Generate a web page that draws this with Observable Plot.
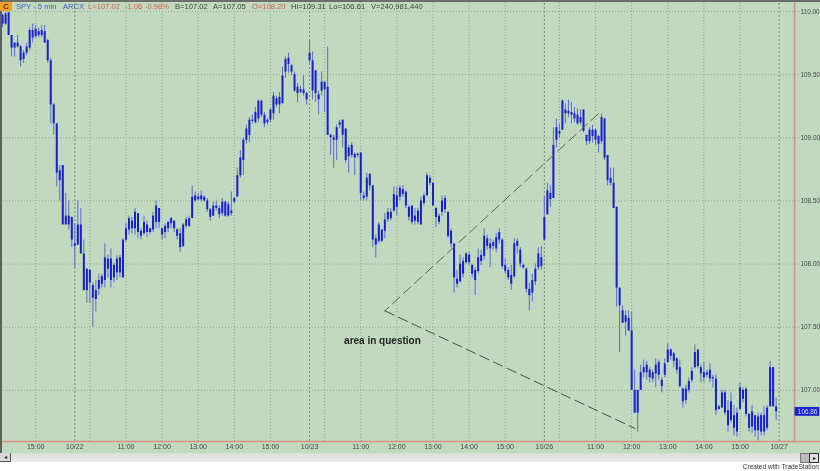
<!DOCTYPE html>
<html><head><meta charset="utf-8">
<script src="https://cdn.jsdelivr.net/npm/d3@7"></script>
<script src="https://cdn.jsdelivr.net/npm/@observablehq/plot@0.6"></script>
<style>
html,body{margin:0;padding:0;background:#fff;width:820px;height:471px;overflow:hidden}
#wrap{position:relative;width:820px;height:471px;font-family:"Liberation Sans",Arial,sans-serif}
#chart svg{display:block;background:#c1d9bf;filter:blur(.35px)}
.h{position:absolute;top:2px;font-size:7.6px;line-height:10px;white-space:nowrap;filter:blur(.3px)}
.c{position:absolute;}
</style></head><body>
<div id="wrap"><div id="chart"></div>
<div class="c" style="left:0;top:0;width:820px;height:2px;background:#6b6f69"></div>
<div class="c" style="left:0;top:0;width:2px;height:453px;background:#5c605a"></div>
<div class="c" style="left:0;top:2px;width:12px;height:9px;background:#f0a030;color:#7a2a00;font:bold 8px 'Liberation Sans';text-align:center;line-height:9px">C</div>
<div id="head"></div>
<div class="c" style="left:0;top:453px;width:820px;height:9px;background:linear-gradient(#d8e0d6,#ececec)"></div>
<div class="c" style="left:0;top:462px;width:820px;height:9px;background:#fff"></div>
<div class="c" style="left:0;top:453px;width:10px;height:8px;background:#d8d8d8;border:1px solid #555;border-left:0;border-top:0;color:#222;font-size:6px;line-height:8px;text-align:center">◂</div>
<div class="c" style="left:800px;top:453px;width:8px;height:8px;background:#bbb;border:1px solid #777"></div>
<div class="c" style="left:809px;top:453px;width:8px;height:8px;background:#ddd;border:1px solid #333;font-size:6px;line-height:8px;text-align:center;color:#222">▸</div>
<div class="c" style="right:1px;top:463px;font-size:6.6px;line-height:8px;color:#333;filter:blur(.25px)">Created with TradeStation</div>
</div>
<script>
const high=[109.98,109.99,109.99,109.81,109.75,109.81,109.73,109.69,109.75,109.87,109.90,109.89,109.87,109.89,109.89,109.78,109.63,109.27,109.11,108.78,108.78,108.56,108.50,108.37,108.32,108.50,108.44,108.19,107.96,107.96,107.85,107.87,107.92,107.92,108.16,108.07,108.12,108.01,108.07,108.07,
108.20,108.32,108.38,108.37,108.44,108.40,108.28,108.38,108.34,108.28,108.41,108.50,108.44,108.28,108.32,108.34,108.37,108.34,108.28,108.28,108.32,108.37,108.38,108.62,108.57,108.56,108.58,108.54,108.52,108.44,
108.49,108.50,108.46,108.52,108.50,108.49,108.57,108.53,108.76,108.90,109.00,109.10,109.16,109.18,109.24,109.30,109.30,109.20,109.15,109.23,109.36,109.33,109.36,109.56,109.64,109.67,109.58,109.52,109.43,109.41,
109.49,109.36,109.77,109.68,109.53,109.37,109.52,109.44,109.72,109.03,109.02,109.10,109.14,109.14,109.07,108.94,108.96,108.88,108.88,108.88,108.57,108.72,108.72,108.62,108.23,108.33,108.27,108.40,108.44,108.44,
108.61,108.61,108.62,108.62,108.58,108.46,108.46,108.44,108.44,108.53,108.56,108.72,108.70,108.64,108.45,108.40,108.54,108.54,108.41,108.28,108.16,107.95,108.07,108.05,108.09,108.09,108.00,107.97,108.12,108.11,
108.28,108.23,108.20,108.19,108.24,108.28,108.20,108.04,107.97,107.99,108.20,108.20,108.13,108.00,107.97,107.85,107.92,108.00,108.13,108.14,108.53,108.64,108.62,109.08,109.15,109.11,109.30,109.27,109.30,109.28,
109.24,109.23,109.22,109.22,109.02,109.08,109.10,109.07,109.02,109.19,109.15,108.86,108.76,108.76,108.45,107.81,107.67,107.63,107.63,107.62,107.16,107.00,107.20,107.24,107.23,107.18,107.16,107.25,107.24,107.10,
107.25,107.37,107.33,107.30,107.26,107.24,107.02,107.04,107.10,107.18,107.36,107.32,107.20,107.22,107.16,107.21,107.12,107.12,106.88,107.00,107.00,106.92,106.98,106.88,106.86,107.06,107.02,107.02,106.82,106.88,
106.80,106.82,106.82,106.87,106.88,107.23,107.18,106.94];
const low=[109.87,109.89,109.81,109.64,109.64,109.71,109.56,109.59,109.65,109.69,109.75,109.79,109.79,109.79,109.75,109.59,109.11,109.02,108.61,108.50,108.31,108.31,108.27,108.13,107.97,108.15,108.08,107.79,107.69,107.69,107.50,107.62,107.75,107.81,107.81,107.89,107.81,107.85,107.87,107.89,
107.89,108.17,108.23,108.24,108.23,108.20,108.19,108.23,108.21,108.23,108.25,108.28,108.28,108.19,108.20,108.25,108.28,108.25,108.19,108.09,108.13,108.28,108.29,108.36,108.49,108.50,108.49,108.49,108.41,108.34,
108.38,108.42,108.36,108.38,108.37,108.37,108.38,108.48,108.53,108.68,108.70,108.95,108.96,109.11,109.11,109.12,109.16,109.08,109.10,109.12,109.14,109.24,109.19,109.27,109.47,109.51,109.49,109.36,109.28,109.35,
109.33,109.26,109.59,109.30,109.28,109.18,109.33,109.20,109.02,108.86,108.76,108.82,109.07,108.92,108.80,108.72,108.84,108.70,108.84,108.50,108.50,108.50,108.58,108.13,108.05,108.16,108.17,108.20,108.33,108.34,
108.41,108.38,108.50,108.53,108.44,108.34,108.31,108.31,108.31,108.31,108.46,108.54,108.62,108.46,108.29,108.31,108.38,108.40,108.20,108.13,107.77,107.81,107.85,107.89,108.00,107.99,107.89,107.75,107.92,107.99,
108.03,108.11,107.97,108.11,108.09,108.16,107.96,107.92,107.87,107.79,107.89,108.08,107.97,107.96,107.77,107.63,107.70,107.83,107.95,107.95,108.18,108.39,108.45,108.52,108.92,109.00,109.06,109.11,109.16,109.11,
109.12,109.10,109.10,109.04,108.94,108.95,108.96,108.94,108.88,108.95,108.82,108.62,108.62,108.44,107.66,107.30,107.53,107.43,107.47,107.00,106.82,106.67,107.00,107.10,107.08,107.06,107.06,107.02,107.08,106.98,
107.10,107.22,107.24,107.18,107.13,107.02,106.86,106.89,106.98,107.06,107.17,107.17,107.06,107.06,107.10,107.06,107.02,106.80,106.84,106.86,106.80,106.67,106.74,106.64,106.63,106.84,106.90,106.79,106.67,106.66,
106.63,106.60,106.64,106.64,106.68,106.87,106.87,106.76];
const open=[109.97,109.90,109.99,109.81,109.71,109.75,109.72,109.62,109.67,109.71,109.85,109.80,109.84,109.81,109.84,109.77,109.61,109.26,109.11,108.74,108.78,108.31,108.38,108.37,108.16,108.15,108.31,108.08,107.96,107.95,107.83,107.72,107.80,107.90,107.87,108.04,108.04,107.99,107.93,108.05,
107.89,108.19,108.27,108.34,108.28,108.40,108.26,108.24,108.31,108.25,108.27,108.33,108.44,108.28,108.25,108.28,108.32,108.34,108.27,108.24,108.14,108.30,108.30,108.36,108.50,108.53,108.51,108.53,108.50,108.43,
108.38,108.46,108.44,108.40,108.49,108.38,108.42,108.49,108.53,108.70,108.82,108.98,109.02,109.14,109.12,109.15,109.29,109.18,109.12,109.14,109.19,109.31,109.26,109.27,109.52,109.63,109.57,109.50,109.40,109.38,
109.38,109.35,109.61,109.61,109.53,109.34,109.37,109.44,109.40,109.02,109.00,108.98,109.10,109.14,109.07,108.85,108.94,108.87,108.86,108.88,108.54,108.53,108.71,108.62,108.15,108.18,108.27,108.26,108.35,108.41,
108.42,108.54,108.53,108.59,108.57,108.45,108.46,108.38,108.42,108.31,108.48,108.54,108.68,108.64,108.44,108.38,108.41,108.52,108.41,108.26,108.16,107.88,107.86,108.02,108.01,108.07,107.99,107.95,107.94,108.02,
108.06,108.20,108.12,108.14,108.12,108.25,108.19,107.99,107.95,107.91,107.90,108.14,108.11,107.99,107.96,107.80,107.77,107.86,107.97,108.05,108.19,108.39,108.56,108.52,108.98,109.03,109.06,109.19,109.21,109.20,
109.19,109.18,109.12,109.22,109.02,108.97,109.06,109.06,109.01,108.97,109.15,108.86,108.68,108.64,108.45,107.81,107.63,107.54,107.57,107.47,107.00,106.82,107.00,107.14,107.20,107.16,107.09,107.13,107.22,107.08,
107.12,107.22,107.32,107.29,107.25,107.18,107.01,106.92,107.00,107.08,107.18,107.32,107.18,107.14,107.12,107.16,107.10,107.09,106.85,106.86,106.98,106.84,106.76,106.80,106.82,106.85,107.00,107.01,106.81,106.71,
106.80,106.68,106.67,106.80,106.70,106.87,107.18,106.87];
const close=[109.90,109.98,109.81,109.71,109.75,109.72,109.61,109.67,109.72,109.85,109.79,109.86,109.81,109.85,109.75,109.61,109.26,109.11,108.72,108.66,108.31,108.38,108.31,108.19,108.14,108.31,108.08,107.79,107.79,107.85,107.73,107.79,107.87,107.84,108.05,107.96,107.87,107.89,108.04,107.93,
108.19,108.28,108.36,108.28,108.41,108.25,108.22,108.33,108.25,108.28,108.38,108.46,108.33,108.23,108.30,108.33,108.36,108.28,108.22,108.13,108.31,108.35,108.36,108.53,108.54,108.51,108.54,108.50,108.43,108.37,
108.46,108.44,108.39,108.49,108.38,108.47,108.40,108.52,108.70,108.84,108.98,109.07,109.14,109.13,109.20,109.29,109.18,109.11,109.14,109.22,109.33,109.26,109.32,109.49,109.62,109.58,109.52,109.37,109.35,109.36,
109.35,109.30,109.67,109.37,109.35,109.30,109.44,109.38,109.02,109.00,108.98,109.08,109.12,109.02,108.82,108.92,108.86,108.84,108.87,108.56,108.52,108.68,108.62,108.19,108.20,108.31,108.18,108.35,108.41,108.36,
108.55,108.45,108.60,108.55,108.46,108.37,108.33,108.34,108.33,108.50,108.54,108.70,108.64,108.46,108.37,108.33,108.50,108.43,108.22,108.16,107.89,107.84,108.00,107.92,108.08,108.01,107.92,107.87,108.05,108.07,
108.22,108.14,108.16,108.17,108.21,108.19,107.98,107.94,107.89,107.84,108.16,108.18,108.00,107.97,107.80,107.75,107.87,107.96,108.08,107.98,108.37,108.58,108.51,108.94,109.08,109.05,109.29,109.22,109.19,109.18,
109.15,109.11,109.16,109.05,108.97,109.06,109.01,108.98,108.95,109.16,108.84,108.66,108.64,108.44,107.81,107.67,107.53,107.59,107.47,107.00,106.82,107.00,107.14,107.18,107.14,107.10,107.14,107.20,107.12,107.03,
107.21,107.32,107.27,107.23,107.16,107.03,106.91,107.01,107.07,107.15,107.30,107.19,107.13,107.10,107.14,107.09,107.09,106.84,106.87,106.98,106.82,106.72,106.91,106.70,106.67,107.02,106.93,106.81,106.70,106.83,
106.68,106.79,106.80,106.67,106.86,107.18,106.87,106.83];
const barIndex=d3.range(high.length);
const timeTicks=[11,24,41,53,65,77,89,102,119,131,143,155,167,180,197,209,221,233,245,258];
const timeLabels=["15:00","10/22","11:00","12:00","13:00","14:00","15:00","10/23","11:00","12:00","13:00","14:00","15:00","10/26","11:00","12:00","13:00","14:00","15:00","10/27"];
const hourGrid=[11,29,41,53,65,77,89,107,119,131,143,155,167,185,197,209,221,233,245];
const dayGrid=[24,102,180,258];
const priceTicks=[107,107.5,108,108.5,109,109.5,110];
const upperLeg=[[197.9,109.19],[127,107.63]];
const lowerLeg=[[127,107.63],[210,106.70]];
const lastPrice=106.86;
const headerItems=[["SPY - 5 min",16,"#4a5cc4"],["ARCX",63,"#4a5cc4"],["L=107.02",88,"#d8604c"],["-1.06",125,"#d8604c"],["-0.98%",145,"#d8604c"],["B=107.02",175,"#3c443c"],["A=107.05",213,"#3c443c"],["O=108.20",252,"#d8604c"],["Hi=109.31",291,"#3c443c"],["Lo=106.61",329,"#3c443c"],["V=240,981,440",371,"#3c443c"]];

const xMin=-0.684,xMax=263.1,yTop=110.0871,yBot=106.5954,xEnd=271.8;
const gridC="#94a78e",axisC="#dc8f80";
const plot=Plot.plot({
  width:820,height:471,marginLeft:0,marginRight:26,marginTop:0,marginBottom:30,
  style:{background:"#c1d9bf",fontFamily:"'Liberation Sans',Arial,sans-serif"},
  x:{domain:[xMin,xMax],axis:null},
  y:{domain:[yBot,yTop],axis:null},
  marks:[
    Plot.ruleY(priceTicks,{x1:xMin,x2:xEnd-6.5,stroke:gridC,strokeWidth:1,strokeDasharray:"1,2"}),
    Plot.ruleX(hourGrid,{y1:yBot,y2:yTop,stroke:gridC,strokeWidth:1,strokeDasharray:"1,2"}),
    Plot.ruleX(dayGrid,{y1:yBot,y2:yTop,stroke:"#7b8c75",strokeWidth:1,strokeDasharray:"2,2"}),
    Plot.axisX({ticks:timeTicks,tickFormat:d=>timeLabels[timeTicks.indexOf(d)],tickSize:0,tickPadding:3,fontSize:7,fill:"#404840",anchor:"bottom"}),
    Plot.axisY({ticks:priceTicks,tickFormat:d=>d.toFixed(2),tickSize:0,tickPadding:6,fontSize:6.4,fill:"#404840",anchor:"right",label:null}),
    Plot.ruleX([xMax],{y1:yBot,y2:yTop,stroke:axisC,strokeWidth:1.6}),
    Plot.ruleY([yBot],{x1:xMin,x2:xEnd,stroke:axisC,strokeWidth:1.6}),
    Plot.ruleX(barIndex,{x:i=>i,y1:i=>low[i],y2:i=>high[i],stroke:"#5e6ad6",strokeWidth:1}),
    Plot.ruleX(barIndex,{x:i=>i,y1:i=>open[i],y2:i=>close[i],stroke:"#1820c8",strokeWidth:2}),
    Plot.line(upperLeg,{x:d=>d[0],y:d=>d[1],stroke:"#5a6256",strokeWidth:1,strokeDasharray:"10,5"}),
    Plot.line(lowerLeg,{x:d=>d[0],y:d=>d[1],stroke:"#4a5046",strokeWidth:1,strokeDasharray:"10,5"}),
    Plot.text(["area in question"],{x:[126.2],y:[107.396],fontSize:10,fontWeight:"bold",fill:"#222",stroke:"none"}),
    Plot.rect([lastPrice],{x1:xMax+0.2,x2:xEnd-0.3,y1:106.795,y2:106.865,fill:"#1a22d0"}),
    Plot.text([lastPrice],{x:(xMax+xEnd)/2,y:106.83,text:d=>d.toFixed(2),fill:"#d8e0f8",fontSize:6.4})
  ]
});
document.getElementById("chart").appendChild(plot);
const head=document.getElementById("head");
for(const [t,left,col] of headerItems){const s=document.createElement("span");s.className="h";s.textContent=t;s.style.left=left+"px";s.style.color=col;head.appendChild(s);}
</script>
</body></html>
